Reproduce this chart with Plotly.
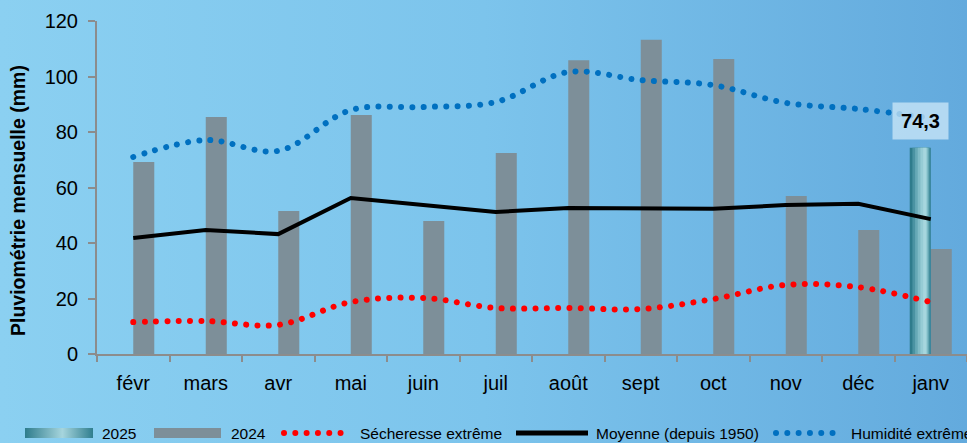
import base64
import plotly.graph_objects as go

# ---------------- data ----------------
months = ['févr', 'mars', 'avr', 'mai', 'juin', 'juil', 'août', 'sept', 'oct', 'nov', 'déc', 'janv']
pluie_2024 = [69.2, 85.4, 51.5, 86.1, 47.9, 72.4, 105.9, 113.2, 106.3, 56.9, 44.7, 37.8]
mois_2025 = ['janv']
pluie_2025 = [74.3]
moyenne = [41.8, 44.7, 43.2, 56.2, 53.7, 51.2, 52.6, 52.6, 52.3, 53.7, 54.1, 48.6]
secheresse = [11.5, 11.9, 10.5, 18.7, 20.2, 16.6, 16.6, 16.2, 19.8, 24.9, 24.1, 18.7]
humidite = [71.0, 77.1, 73.2, 87.9, 89.0, 90.8, 101.6, 98.7, 96.9, 90.5, 88.3, 85.0]
y_ticks = [0, 20, 40, 60, 80, 100, 120]

# ---------------- layout geometry ----------------
W, H = 967, 443
ML, MR, MT, MB = 97, 0, 21, 89
PW, PH = W - ML - MR, H - MT - MB

def px(x):
    return (x - ML) / PW

def py(y):
    return (H - MB - y) / PH

FONT = "Liberation Sans, Arial, sans-serif"
GREY_BAR = '#7D8F99'
AXIS = '#8C8C8C'
RED = '#FF0000'
BLUE = '#0070C0'
DOT = '5px,6.3px'

def svg_uri(svg):
    return 'data:image/svg+xml;base64,' + base64.b64encode(svg.encode()).decode()

bg_svg = ('<svg xmlns="http://www.w3.org/2000/svg" width="967" height="443" preserveAspectRatio="none">'
          '<defs><linearGradient id="g" x1="0" y1="0" x2="1" y2="0">'
          '<stop offset="0" stop-color="#8BD0F1"/><stop offset="0.5" stop-color="#7CC4EC"/>'
          '<stop offset="1" stop-color="#63AADD"/></linearGradient></defs>'
          '<rect width="967" height="443" fill="url(#g)"/></svg>')
sw_svg = ('<svg xmlns="http://www.w3.org/2000/svg" width="68" height="10" preserveAspectRatio="none">'
          '<defs><linearGradient id="c" x1="0" y1="0" x2="1" y2="0">'
          '<stop offset="0" stop-color="#2E7C8C"/><stop offset="0.55" stop-color="#A6D5DD"/>'
          '<stop offset="1" stop-color="#2F7E8E"/></linearGradient></defs>'
          '<rect width="68" height="10" fill="url(#c)"/></svg>')

fig = go.Figure()

# 2024 bars (right of category centre)
fig.add_trace(go.Bar(x=months, y=pluie_2024, name='2024', marker=dict(color=GREY_BAR, line=dict(width=0)),
                     offset=0.0, width=0.29, showlegend=False))

# 2025 bar (left of centre) drawn as cylinder-like layers
cyl_colors = ['#2E7C8C', '#4A93A2', '#66A9B6', '#80BCC7', '#96CCD5', '#A6D6DE']
for k, c in enumerate(cyl_colors):
    w = 0.29 - k * 0.05
    fig.add_trace(go.Bar(x=mois_2025, y=pluie_2025, name='2025', marker=dict(color=c, line=dict(width=0)),
                         offset=-0.145 - w / 2 + 0.012 * k, width=w, showlegend=False))

fig.add_trace(go.Scatter(x=months, y=secheresse, mode='lines', name='Sécheresse extrême',
                         line=dict(color=RED, width=6, dash=DOT, shape='spline', smoothing=1),
                         showlegend=False))
fig.add_trace(go.Scatter(x=months, y=moyenne, mode='lines', name='Moyenne (depuis 1950)',
                         line=dict(color='black', width=4), showlegend=False))
fig.add_trace(go.Scatter(x=months, y=humidite, mode='lines', name='Humidité extrême',
                         line=dict(color=BLUE, width=6, dash=DOT, shape='spline', smoothing=1),
                         showlegend=False))

# data label
fig.add_annotation(x=mois_2025[0], y=pluie_2025[0], text='<b>' + f"{pluie_2025[0]:.1f}".replace('.', ',') + '</b>',
                   showarrow=False, xshift=-0.145 * PW / 12, yshift=8, yanchor='bottom',
                   font=dict(family=FONT, size=20, color='black'),
                   bgcolor='rgba(205,232,248,0.75)', width=51, height=32, borderpad=2)

# y title
fig.add_annotation(xref='paper', yref='paper', x=px(18), y=py(201), text='<b>Pluviométrie mensuelle (mm)</b>',
                   textangle=-90, showarrow=False, xanchor='center', yanchor='middle',
                   font=dict(family=FONT, size=19.5, color='black'))

# manual legend
ly = 433
shapes = []
images = [
    dict(source=svg_uri(bg_svg), xref='paper', yref='paper', x=px(0), y=py(0), sizex=W / PW, sizey=H / PH,
         sizing='stretch', xanchor='left', yanchor='top', layer='below'),
    dict(source=svg_uri(sw_svg), xref='paper', yref='paper', x=px(25), y=py(428), sizex=68 / PW, sizey=10 / PH,
         sizing='stretch', xanchor='left', yanchor='top', layer='above'),
]
shapes.append(dict(type='rect', xref='paper', yref='paper', x0=px(154), x1=px(221), y0=py(428), y1=py(438),
                   fillcolor=GREY_BAR, line=dict(width=0)))
shapes.append(dict(type='line', xref='paper', yref='paper', x0=px(284), x1=px(347), y0=py(ly), y1=py(ly),
                   line=dict(color=RED, width=6, dash=DOT)))
shapes.append(dict(type='line', xref='paper', yref='paper', x0=px(516), x1=px(588), y0=py(ly), y1=py(ly),
                   line=dict(color='black', width=5)))
shapes.append(dict(type='line', xref='paper', yref='paper', x0=px(776), x1=px(840), y0=py(ly), y1=py(ly),
                   line=dict(color=BLUE, width=6, dash=DOT)))
legend_texts = [('2025', 100), ('2024', 229), ('Sécheresse extrême', 358),
                ('Moyenne (depuis 1950)', 594), ('Humidité extrême', 849)]
for t, x0 in legend_texts:
    fig.add_annotation(xref='paper', yref='paper', x=px(x0), y=py(ly), text=t, showarrow=False,
                       xanchor='left', yanchor='middle', font=dict(family=FONT, size=15.5, color='black'))

fig.update_layout(
    width=W, height=H,
    margin=dict(l=ML, r=MR, t=MT, b=MB, pad=0),
    paper_bgcolor='#7CC4EC', plot_bgcolor='rgba(0,0,0,0)',
    barmode='overlay', showlegend=False,
    font=dict(family=FONT, color='black'),
    shapes=shapes, images=images,
    xaxis=dict(type='category', range=[-0.5, 11.5], showline=True, linecolor=AXIS, linewidth=2,
               ticks='outside', tickson='boundaries', ticklen=6, tickwidth=2, tickcolor=AXIS,
               showgrid=False, zeroline=False, tickfont=dict(family=FONT, size=20, color='black'),
               ticklabelstandoff=10, fixedrange=True),
    yaxis=dict(range=[0, 120], tickvals=y_ticks, showline=True, linecolor=AXIS, linewidth=2,
               ticks='outside', ticklen=7, tickwidth=2, tickcolor=AXIS, showgrid=False, zeroline=False,
               tickfont=dict(family=FONT, size=20, color='black'), ticklabelstandoff=6, fixedrange=True),
)

post_js = """
document.body.style.margin = '0';
document.body.style.padding = '0';
document.documentElement.style.overflow = 'hidden';
var gd = document.getElementById('{plot_id}');
function roundDots() {
  gd.querySelectorAll('path.js-line, .shapelayer path').forEach(function (p) {
    var d = p.style.strokeDasharray;
    if (d && d !== 'none' && d !== '') {
      p.style.strokeDasharray = '0.01px, 11.3px';
      p.style.strokeLinecap = 'round';
    }
  });
}
roundDots();
gd.on('plotly_afterplot', roundDots);
"""

fig.write_html("out.html", post_script=post_js, config={'displayModeBar': False, 'staticPlot': True})
